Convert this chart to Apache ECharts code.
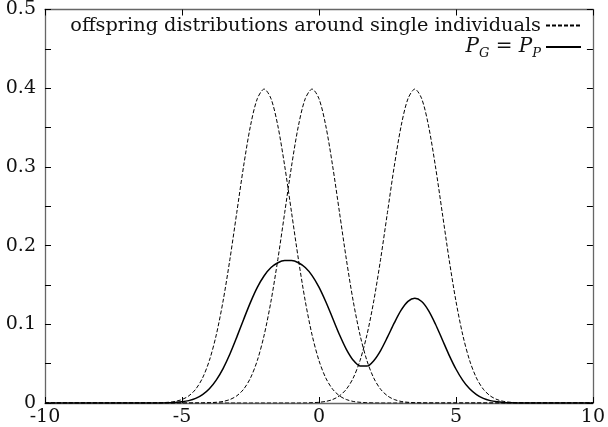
<!DOCTYPE html>
<html>
<head>
<meta charset="utf-8">
<script src="https://cdn.jsdelivr.net/npm/echarts@6/dist/echarts.min.js"></script>
<style>
html,body{margin:0;padding:0;background:#fff;}
#main{width:608px;height:427px;}
</style>
</head>
<body>
<div id="main"></div>
<script>
// sample positions (x)
var xs = [-10, -6.5, -6.25, -6, -5.75, -5.5, -5.25, -5, -4.75, -4.5, -4.25, -4, -3.75, -3.5, -3.25, -3, -2.75, -2.5, -2.25, -2, -1.75, -1.5, -1.25, -1, -0.75, -0.5, -0.25, 0, 0.25, 0.5, 0.75, 1, 1.25, 1.5, 1.75, 2, 2.25, 2.5, 2.75, 3, 3.25, 3.5, 3.75, 4, 4.25, 4.5, 4.75, 5, 5.25, 5.5, 5.75, 6, 6.25, 6.5, 6.75, 7, 7.25, 7.5, 7.75, 8, 10];

// offspring distribution around individual 1 (peak near -2)
var offspringA = [0, 0, 0, 0.0001, 0.0004, 0.0009, 0.0020, 0.0044, 0.0091, 0.0175, 0.0317, 0.0540, 0.0863, 0.1295, 0.1826, 0.2420, 0.3011, 0.3521, 0.3867, 0.3989, 0.3867, 0.3521, 0.3011, 0.2420, 0.1826, 0.1295, 0.0863, 0.0540, 0.0317, 0.0175, 0.0091, 0.0044, 0.0020, 0.0009, 0.0004, 0.0001, 0, 0, 0, 0, 0, 0, 0, 0, 0, 0, 0, 0, 0, 0, 0, 0, 0, 0, 0, 0, 0, 0, 0, 0, 0];

// offspring distribution around individual 2 (peak near -0.25)
var offspringB = [0, 0, 0, 0, 0, 0, 0, 0, 0, 0, 0.0001, 0.0004, 0.0009, 0.0020, 0.0044, 0.0091, 0.0175, 0.0317, 0.0540, 0.0863, 0.1295, 0.1826, 0.2420, 0.3011, 0.3521, 0.3867, 0.3989, 0.3867, 0.3521, 0.3011, 0.2420, 0.1826, 0.1295, 0.0863, 0.0540, 0.0317, 0.0175, 0.0091, 0.0044, 0.0020, 0.0009, 0.0004, 0.0001, 0, 0, 0, 0, 0, 0, 0, 0, 0, 0, 0, 0, 0, 0, 0, 0, 0, 0];

// offspring distribution around individual 3 (peak near 3.5)
var offspringC = [0, 0, 0, 0, 0, 0, 0, 0, 0, 0, 0, 0, 0, 0, 0, 0, 0, 0, 0, 0, 0, 0, 0, 0, 0, 0.0001, 0.0004, 0.0009, 0.0020, 0.0044, 0.0091, 0.0175, 0.0317, 0.0540, 0.0863, 0.1295, 0.1826, 0.2420, 0.3011, 0.3521, 0.3867, 0.3989, 0.3867, 0.3521, 0.3011, 0.2420, 0.1826, 0.1295, 0.0863, 0.0540, 0.0317, 0.0175, 0.0091, 0.0044, 0.0020, 0.0009, 0.0004, 0.0001, 0, 0, 0];

// P_G = P_P
var pop = [0, 0, 0, 0, 0.0001, 0.0003, 0.0007, 0.0015, 0.0030, 0.0058, 0.0106, 0.0181, 0.0291, 0.0438, 0.0623, 0.0837, 0.1062, 0.1279, 0.1469, 0.1617, 0.1721, 0.1782, 0.1810, 0.1810, 0.1782, 0.1721, 0.1619, 0.1472, 0.1286, 0.1077, 0.0867, 0.0682, 0.0544, 0.0471, 0.0469, 0.0538, 0.0667, 0.0837, 0.1018, 0.1180, 0.1292, 0.1331, 0.1289, 0.1174, 0.1004, 0.0807, 0.0609, 0.0432, 0.0288, 0.0180, 0.0106, 0.0058, 0.0030, 0.0015, 0.0007, 0.0003, 0.0001, 0, 0, 0, 0];

var nameOff = 'offspring distributions around single individuals';
var namePop = 'PG=PP';

function pairs(ys) { return xs.map(function (x, i) { return [x, ys[i]]; }); }

var FONT = 'DejaVu Serif';
var frameColor = '#666';

var chart = echarts.init(document.getElementById('main'), null, {renderer: 'canvas'});

function dashed(ys) {
  return {
    name: nameOff, type: 'line', data: pairs(ys), showSymbol: false, symbol: 'none',
    smooth: 0.3,
    lineStyle: {color: '#000', width: 1, type: [4, 2]}, itemStyle: {color: '#000'},
    silent: true, z: 3
  };
}

var option = {
  animation: false,
  backgroundColor: '#fff',
  grid: {left: 45, right: 12, top: 6, bottom: 24, containLabel: false},
  xAxis: [{
    type: 'value', min: -10, max: 10, interval: 5, position: 'bottom',
    axisLine: {show: true, onZero: false, lineStyle: {color: frameColor, width: 1.3}},
    axisTick: {show: true, inside: true, length: 6, lineStyle: {color: '#000', width: 1}},
    axisLabel: {fontFamily: FONT, fontSize: 19, color: '#111', margin: 5},
    splitLine: {show: false}
  }, {
    type: 'value', min: -10, max: 10, interval: 5, position: 'top',
    axisLine: {show: true, onZero: false, lineStyle: {color: frameColor, width: 1.3}},
    axisTick: {show: true, inside: true, length: 6, lineStyle: {color: '#000', width: 1}},
    axisLabel: {show: false}, splitLine: {show: false}
  }],
  yAxis: [{
    type: 'value', min: 0, max: 0.5, interval: 0.1, position: 'left',
    axisLine: {show: true, onZero: false, lineStyle: {color: frameColor, width: 1.3}},
    axisTick: {show: true, inside: true, length: 6, lineStyle: {color: '#000', width: 1}},
    minorTick: {show: true, splitNumber: 2, length: 6, lineStyle: {color: '#000', width: 1}},
    axisLabel: {fontFamily: FONT, fontSize: 19, color: '#111', margin: 9},
    splitLine: {show: false}
  }, {
    type: 'value', min: 0, max: 0.5, interval: 0.1, position: 'right',
    axisLine: {show: true, onZero: false, lineStyle: {color: frameColor, width: 1.3}},
    axisTick: {show: true, inside: true, length: 6, lineStyle: {color: '#000', width: 1}},
    minorTick: {show: true, splitNumber: 2, length: 6, lineStyle: {color: '#000', width: 1}},
    axisLabel: {show: false}, splitLine: {show: false}
  }],
  legend: [{
    data: [{name: nameOff}],
    right: 21, top: 11, align: 'right', orient: 'vertical',
    itemWidth: 35, itemHeight: 10, selectedMode: false,
    itemStyle: {opacity: 0},
    textStyle: {fontFamily: FONT, fontSize: 19.3, color: '#111'}
  }, {
    data: [{name: namePop}],
    right: 21, top: 32, align: 'right', orient: 'vertical',
    itemWidth: 35, itemHeight: 10, selectedMode: false,
    itemStyle: {opacity: 0},
    formatter: function () { return '{i|P}{s|G}{n| = }{i|P}{s|P}'; },
    textStyle: {
      fontFamily: FONT, fontSize: 19, color: '#111',
      rich: {
        i: {fontFamily: FONT, fontStyle: 'italic', fontSize: 20, color: '#111', lineHeight: 26, verticalAlign: 'middle'},
        n: {fontFamily: FONT, fontSize: 20, color: '#111', lineHeight: 26, verticalAlign: 'middle'},
        s: {fontFamily: FONT, fontStyle: 'italic', fontSize: 13, color: '#111', lineHeight: 14, verticalAlign: 'bottom'}
      }
    }
  }],
  series: [
    dashed(offspringA),
    dashed(offspringB),
    dashed(offspringC),
    {
      name: namePop, type: 'line', data: pairs(pop), showSymbol: false, symbol: 'none',
      smooth: 0.3,
      lineStyle: {color: '#000', width: 1.5, type: 'solid'}, itemStyle: {color: '#000'},
      silent: true, z: 4
    }
  ]
};
chart.setOption(option);
</script>
</body>
</html>
